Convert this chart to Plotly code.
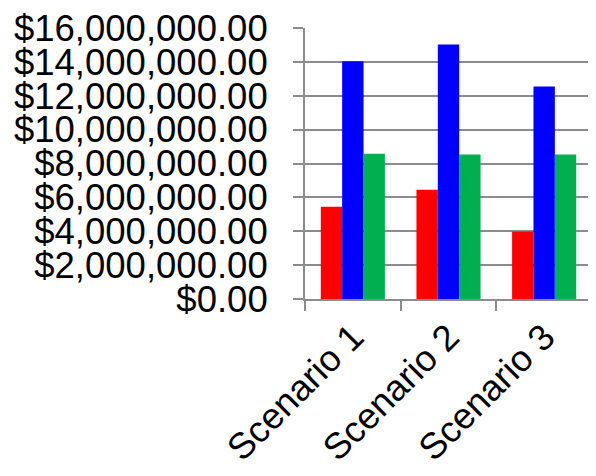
import plotly.graph_objects as go

categories = ["Scenario 1", "Scenario 2", "Scenario 3"]
series_red = [5440000, 6450000, 3980000]
series_blue = [14030000, 15030000, 12540000]
series_green = [8570000, 8530000, 8530000]
y_ticks = [0, 2000000, 4000000, 6000000, 8000000, 10000000, 12000000, 14000000, 16000000]

fig = go.Figure()
for vals, col, name in [(series_red, "#FF0000", "Series 1"),
                        (series_blue, "#0000FF", "Series 2"),
                        (series_green, "#00B050", "Series 3")]:
    fig.add_trace(go.Bar(x=categories, y=vals, marker=dict(color=col, line=dict(width=0)), name=name))

fig.update_layout(
    width=588, height=468,
    margin=dict(l=297, r=4, t=20, b=177),
    barmode="group", bargap=0.33, bargroupgap=0,
    showlegend=False,
    plot_bgcolor="white", paper_bgcolor="white",
    font=dict(family="Liberation Sans, Arial", size=36.5, color="black"),
)
fig.update_yaxes(
    range=[0, 16000000], tickvals=y_ticks, tickformat="$,.2f",
    showgrid=True, gridcolor="#8c8c8c", gridwidth=2,
    showline=True, linecolor="#8c8c8c", linewidth=2,
    ticks="outside", ticklen=10, tickcolor="#8c8c8c", tickwidth=2,
    ticklabelstandoff=18, zeroline=False, automargin=False,
    ticklabeloverflow="allow",
)
fig.update_xaxes(
    showline=True, linecolor="#8c8c8c", linewidth=2,
    ticks="outside", ticklen=10, tickcolor="#8c8c8c", tickwidth=2,
    tickson="boundaries", tickangle=-45, automargin=False,
    ticklabeloverflow="allow",
)
fig.write_html("out.html")
